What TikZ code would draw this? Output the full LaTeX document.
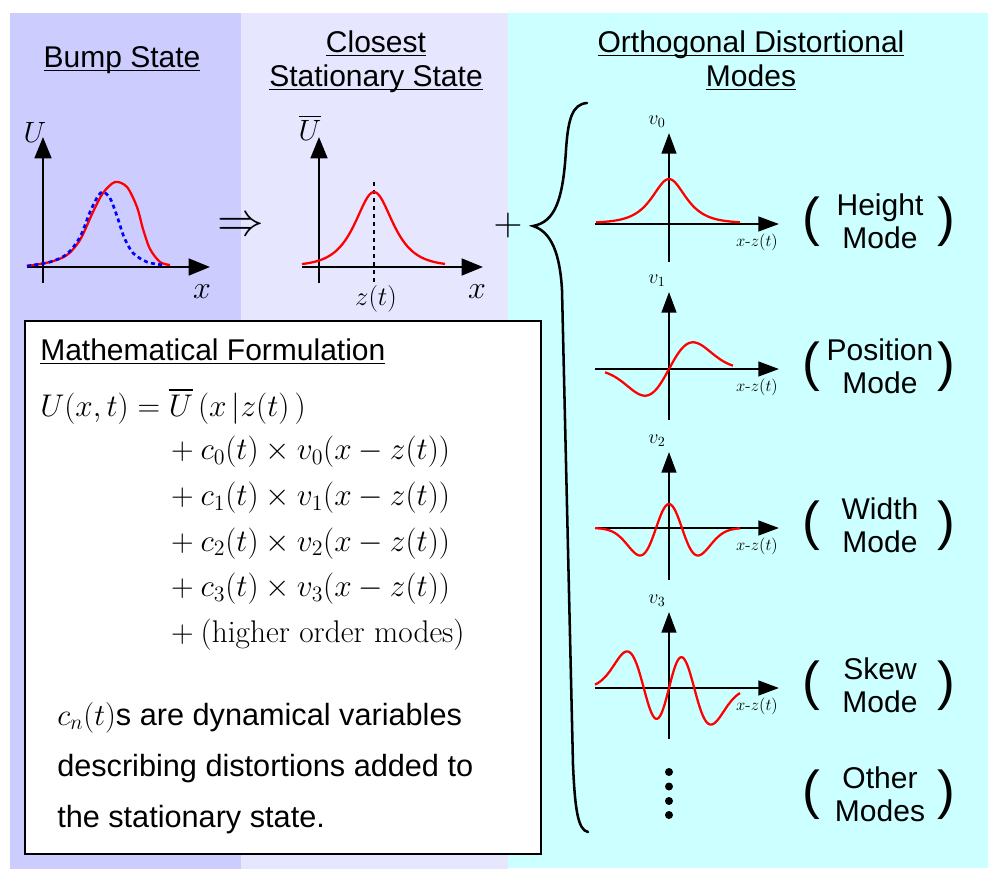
\RequirePackage{fix-cm}
\documentclass[tikz,border=0pt]{standalone}
\usepackage{amsmath}
\usepackage{fontspec}
\setsansfont{Liberation Sans}
\usepackage{tikz}
\usetikzlibrary{arrows.meta, positioning}
\definecolor{colBump}  {HTML}{CCCCFF}
\definecolor{colClose} {HTML}{E6E6FF}
\definecolor{colModes} {HTML}{CCFFFF}
\definecolor{colCurve} {HTML}{FF0000}
\definecolor{colShift} {HTML}{0000FF}
\tikzset{
  ttl/.style={font=\sffamily\fontsize{22.5}{25.5}\selectfont, anchor=base, inner sep=0pt},
  axisarr/.style={-{Triangle[length=16pt,width=12.5pt]}, line width=2pt},
  modearr/.style={-{Triangle[length=15.5pt,width=11pt]}, line width=1.8pt},
  bump/.style={draw=colCurve, line width=1.7pt},
  shifted/.style={draw=colShift, line width=2pt, dash pattern=on 3pt off 2.5pt},
  axlbl/.style={font=\fontsize{22}{22}\selectfont, inner sep=0pt},
  modetxt/.style={font=\sffamily\fontsize{22.5}{25}\selectfont, align=center, inner sep=0pt},
  paren/.style={font=\sffamily\fontsize{40}{40}\selectfont, inner sep=0pt},
  eqline/.style={font=\fontsize{23.5}{27}\selectfont, anchor=west, inner sep=0pt},
  desc/.style={font=\sffamily\fontsize{23}{25}\selectfont, anchor=base west, inner sep=0pt},
  brace/.style={line width=1.9pt, line cap=round},
  formbox/.style={draw, fill=white, line width=2pt}
}
\begin{document}
\begin{tikzpicture}[x=0.75pt, y=-0.75pt]
  \useasboundingbox (0,0) rectangle (1000,885);
  \fill[white] (0,0) rectangle (1000,885);
  % panels
  \fill[colBump]  (10,13)  rectangle (241,869);
  \fill[colClose] (241,13) rectangle (508,869);
  \fill[colModes] (508,13) rectangle (988,868);

  \node[ttl] (tBump)   at (122,67) {\underline{\smash{Bump State}}};
  \node[ttl] (tClose)  at (376,52) {\underline{\smash{Closest}}};
  \node[ttl] (tStat)   at (376,86) {\underline{\smash{Stationary State}}};
  \node[ttl] (tOrtho)  at (751,52) {\underline{\smash{Orthogonal Distortional}}};
  \node[ttl] (tModes)  at (751,86) {\underline{\smash{Modes}}};

  % bump state
  \draw[axisarr] (43,283) -- (43,137); \draw[axisarr] (27,267) -- (210,267);
  \draw[bump] plot[smooth] coordinates {(27,266) (50,262) (67,255) (80,240) (93,212) (103,193)
    (115,182) (127,187) (137,207) (143,229) (150,249) (160,262) (170,265)};
  \draw[shifted] plot[smooth] coordinates {(27,266) (50,262) (67,254) (80,237) (90,212) (98,196)
    (103,192) (110,198) (117,216) (124,237) (133,253) (147,262) (163,265)};
  \node[axlbl] (lblU) at (35,132) {$U$};
  \node[axlbl, font=\fontsize{24}{24}\selectfont] (lblX) at (202,292) {$x$};

  \node[font=\fontsize{35}{35}\selectfont, inner sep=0pt] (implies) at (241,227) {$\Rightarrow$};

  % closest stationary state
  \draw[axisarr] (319,283) -- (319,137); \draw[axisarr] (302,267) -- (483,267);
  \draw[line width=1.5pt, dash pattern=on 3pt off 3pt] (374,182) -- (374,283);
  \draw[bump, shift={(374,266)}] plot[domain=-72:71, samples=90] (\x, {-74/cosh(\x/16.7)});
  \node[axlbl] (lblUbar) at (310,128) {$\overline{U}$};
  \node[axlbl, font=\fontsize{24}{24}\selectfont] (lblXs) at (477,292) {$x$};
  \node[axlbl, font=\fontsize{20}{20}\selectfont] (lblZ) at (376,299) {$z(t)$};

  \node[font=\fontsize{30}{30}\selectfont, inner sep=0pt] (plus) at (508,225) {$+$};
  \draw[brace] (587,103) .. controls (572,104) and (568,120) .. (566,150)
    .. controls (563,200) and (555,222) .. (533,226)
    .. controls (552,232) and (560,255) .. (562,290)
    -- (573,765) .. controls (575,810) and (578,830) .. (588,832);

  % distortional modes
  \foreach \k/\ay/\top/\bot in {0/224/133/262, 1/369/292/420, 2/528/452/580, 3/688/612/739}{
    \draw[modearr] (669,\bot) -- (669,\top);
    \draw[modearr] (595,\ay) -- (779,\ay);
    \node[font=\fontsize{15}{15}\selectfont, inner sep=0pt] (v\k) at (657,{\top-11}) {$v_{\k}$};
    \node[font=\fontsize{12.5}{12.5}\selectfont, inner sep=0pt] (arg\k) at (757,{\ay+18}) {$x$-$z(t)$};
  }
  \draw[bump, shift={(669,223)}] plot[domain=-73:71, samples=90] (\x, {-44/cosh(\x/15)});
  \draw[bump, shift={(669,369)}] plot[domain=-64:64, samples=90]
    (\x, {-44*(\x/24)*exp(-(\x/24)*(\x/24)/2)});
  \draw[bump, shift={(669,528)}] plot[domain=-74:71, samples=100]
    (\x, {-24*(1-2*(\x/18.3)*(\x/18.3))*exp(-(\x/18.3)*(\x/18.3)/2)});
  \draw[bump, shift={(669,688)}] plot[domain=-74:71, samples=120]
    (\x, {-27*(3*(\x/20.6)-2*(\x/20.6)*(\x/20.6)*(\x/20.6))*exp(-(\x/20.6)*(\x/20.6)/2)});
  \foreach \dy in {772,786.5,801,815} \fill (669,\dy) circle (3pt);

  \foreach \ly/\txt in {224/{Height\\Mode}, 369/{Position\\Mode}, 528/{Width\\Mode},
                        688/{Skew\\Mode}, 797/{Other\\Modes}}{
    \node[modetxt] (lbl\ly) at (880,{\ly-3}) {\txt};
    \node[paren] (lp\ly) at (811,{\ly-2}) {(};
    \node[paren] (rp\ly) at (946,{\ly-2}) {)};
  }

  % formulation
  \draw[formbox] (25,321) rectangle (541,854);
  \node[ttl, anchor=base west] (tMath) at (40,360) {\underline{\smash{Mathematical Formulation}}};
  \node[eqline] (eqU) at (40,406) {$U(x,t) = \overline{U}\,(x\,|z(t)\,)$};
  \foreach \n in {0,...,3}
    \node[eqline] (eq\n) at (164,{452+45.7*\n}) {${}+c_{\n}(t)\times v_{\n}(x-z(t))$};
  \node[eqline] (eqHigher) at (164,635) {${}+\text{(higher order modes)}$};
  \node[desc] (desc1) at (57,725) {$c_n(t)$s are dynamical variables};
  \node[desc] (desc2) at (57,776) {describing distortions added to};
  \node[desc] (desc3) at (57,827) {the stationary state.};
\end{tikzpicture}
\end{document}
